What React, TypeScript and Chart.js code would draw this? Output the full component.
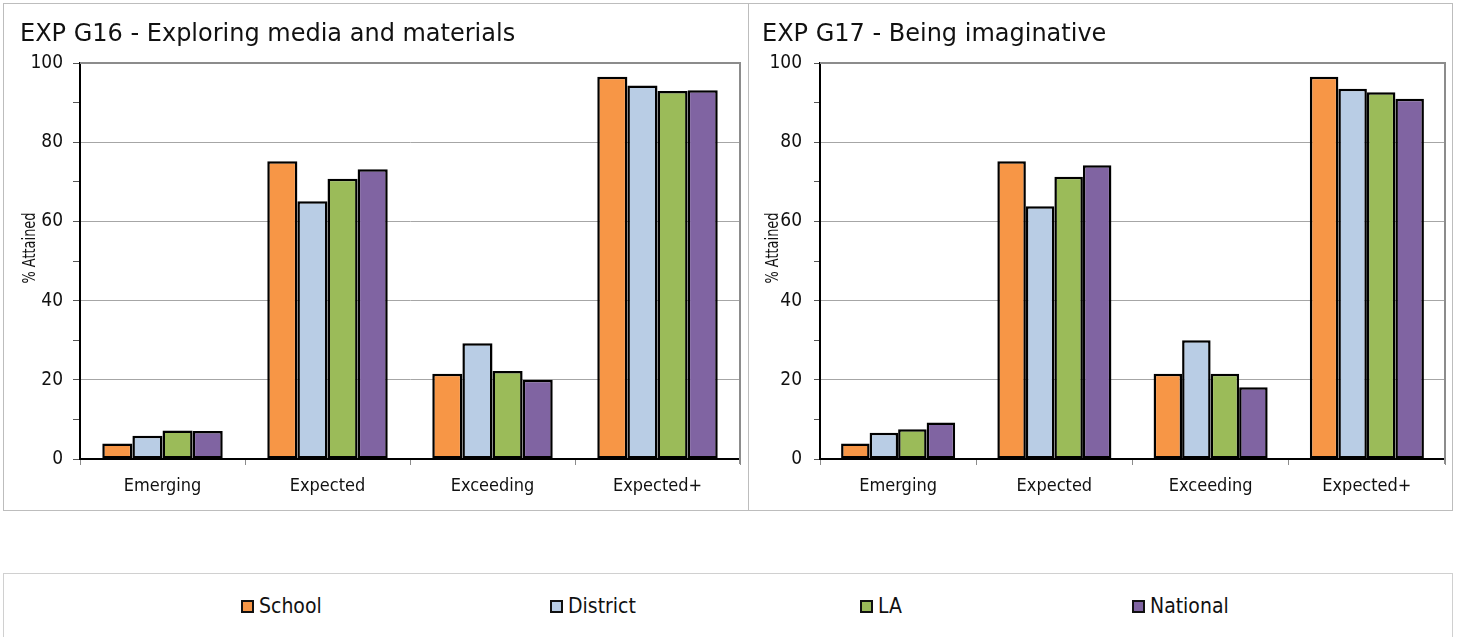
import React, { useEffect, useRef } from "react";
import { Chart, registerables } from "chart.js";

Chart.register(...registerables);

const categories = ["Emerging", "Expected", "Exceeding", "Expected+"];
const seriesNames = ["School", "District", "LA", "National"];
const seriesColors = ["#F79646", "#B9CDE5", "#9BBB59", "#8064A2"];

const g16Title = "EXP G16 - Exploring media and materials";
const g16School = [3.9, 75.2, 21.5, 96.5];
const g16District = [5.9, 65.1, 29.2, 94.3];
const g16LA = [7.2, 70.8, 22.2, 92.9];
const g16National = [7.1, 73.2, 20.0, 93.1];

const g17Title = "EXP G17 - Being imaginative";
const g17School = [3.9, 75.2, 21.5, 96.5];
const g17District = [6.6, 63.8, 30.0, 93.5];
const g17LA = [7.5, 71.3, 21.5, 92.6];
const g17National = [9.2, 74.2, 18.1, 91.0];

const yMin = 0;
const yMax = 100;
const yMinorStep = 10;
const yLabelStep = 20;
const yAxisTitle = "% Attained";

const TICK_FONT = '"DejaVu Sans Condensed", "DejaVu Sans", sans-serif';
const TITLE_FONT = '"DejaVu Sans", sans-serif';

const frameLines = {
  id: "frameLines",
  afterDatasetsDraw(chart: any) {
    const { ctx, chartArea } = chart;
    ctx.save();
    ctx.strokeStyle = "#8c8c8c";
    ctx.lineWidth = 2;
    ctx.beginPath();
    ctx.moveTo(chartArea.left, chartArea.top);
    ctx.lineTo(chartArea.right, chartArea.top);
    ctx.lineTo(chartArea.right, chartArea.bottom + 5);
    ctx.stroke();
    ctx.restore();
  },
};

const yTitlePlugin = {
  id: "yTitleText",
  afterDraw(chart: any, _args: any, opts: any) {
    const { ctx } = chart;
    ctx.save();
    ctx.translate(opts.x, opts.y);
    ctx.rotate(-Math.PI / 2);
    ctx.scale(0.8, 1);
    ctx.font = '18px "DejaVu Sans Condensed", "DejaVu Sans", sans-serif';
    ctx.fillStyle = "#111111";
    ctx.textAlign = "center";
    ctx.textBaseline = "middle";
    ctx.fillText(opts.text, 0, 0);
    ctx.restore();
  },
};

type PanelProps = {
  title: string;
  series: number[][];
  width: number;
  height: number;
  padLeft: number;
  padRight: number;
  yWidth: number;
  yTickLen: number;
  yTickPad: number;
  yTitleX: number;
  yTitleY: number;
};

function Panel(p: PanelProps) {
  const ref = useRef<HTMLCanvasElement>(null);
  useEffect(() => {
    if (!ref.current) return;
    const chart = new Chart(ref.current, {
      type: "bar",
      data: {
        labels: categories,
        datasets: seriesNames.map((name, i) => ({
          label: name,
          data: p.series[i],
          backgroundColor: seriesColors[i],
          borderColor: "#000000",
          borderWidth: 2.5,
          borderSkipped: false,
          categoryPercentage: 0.73,
          barPercentage: 1.0,
        })),
      },
      options: {
        animation: false,
        responsive: false,
        maintainAspectRatio: false,
        layout: { padding: { left: p.padLeft, right: p.padRight, top: 0, bottom: 0 } },
        plugins: {
          legend: { display: false },
          tooltip: { enabled: false },
          title: {
            display: true,
            text: p.title,
            align: "start",
            color: "#111111",
            font: { family: TITLE_FONT, size: 24, weight: "normal" as any, lineHeight: 1.2 },
            padding: { top: 16, bottom: 14.2 },
          },
          yTitleText: { text: yAxisTitle, x: p.yTitleX, y: p.yTitleY },
        } as any,
        scales: {
          x: {
            afterFit: (s: any) => {
              s.height = 51;
            },
            grid: {
              offset: true,
              drawOnChartArea: false,
              drawTicks: true,
              tickLength: 6,
              color: "#8c8c8c",
            },
            border: { color: "#000000", width: 2 },
            ticks: {
              color: "#111111",
              padding: 11,
              font: { family: TICK_FONT, size: 18 },
            },
          },
          y: {
            min: yMin,
            max: yMax,
            afterFit: (s: any) => {
              s.width = p.yWidth;
            },
            grid: {
              color: (c: any) =>
                c.tick && c.tick.value % yLabelStep === 0 ? "#a6a6a6" : "rgba(0,0,0,0)",
              tickColor: "#555555",
              tickLength: p.yTickLen,
              lineWidth: 1,
            },
            border: { color: "#000000", width: 2 },
            ticks: {
              stepSize: yMinorStep,
              color: "#111111",
              padding: p.yTickPad,
              font: { family: TICK_FONT, size: 19 },
              callback: (v: any) => (Number(v) % yLabelStep === 0 ? String(v) : ""),
            },
            title: { display: false },
          },
        },
      },
      plugins: [frameLines, yTitlePlugin],
    });
    return () => chart.destroy();
  }, []);
  return <canvas ref={ref} width={p.width} height={p.height} style={{ display: "block", width: p.width, height: p.height }} />;
}

const legendLefts = [241, 550, 860, 1132];

export default function App() {
  return (
    <div style={{ position: "absolute", left: 0, top: 0, width: 1459, height: 637, overflow: "hidden", background: "#fff" }}>
      <div
        style={{
          position: "absolute",
          left: 3,
          top: 3,
          width: 746,
          height: 508,
          boxSizing: "border-box",
          border: "1px solid #bdbdbd",
        }}
      >
        <Panel
          title={g16Title}
          series={[g16School, g16District, g16LA, g16National]}
          width={744}
          height={506}
          padLeft={16}
          padRight={8}
          yWidth={60}
          yTickLen={7}
          yTickPad={10}
          yTitleX={26}
          yTitleY={244}
        />
      </div>
      <div
        style={{
          position: "absolute",
          left: 748,
          top: 3,
          width: 705,
          height: 508,
          boxSizing: "border-box",
          border: "1px solid #bdbdbd",
        }}
      >
        <Panel
          title={g17Title}
          series={[g17School, g17District, g17LA, g17National]}
          width={703}
          height={506}
          padLeft={13}
          padRight={7}
          yWidth={58}
          yTickLen={6}
          yTickPad={12}
          yTitleX={24}
          yTitleY={244}
        />
      </div>
      <div
        style={{
          position: "absolute",
          left: 3,
          top: 573,
          width: 1450,
          height: 80,
          boxSizing: "border-box",
          border: "1px solid #d0d0d0",
        }}
      />
      {seriesNames.map((name, i) => (
        <div
          key={name}
          style={{
            position: "absolute",
            left: legendLefts[i],
            top: 594,
            height: 24,
            display: "flex",
            alignItems: "center",
            fontFamily: TICK_FONT,
            fontSize: 21,
            color: "#111",
            whiteSpace: "nowrap",
          }}
        >
          <span
            style={{
              display: "inline-block",
              width: 13,
              height: 13,
              boxSizing: "border-box",
              border: "2px solid #111",
              background: seriesColors[i],
              marginRight: 5,
            }}
          />
          <span>{name}</span>
        </div>
      ))}
    </div>
  );
}
